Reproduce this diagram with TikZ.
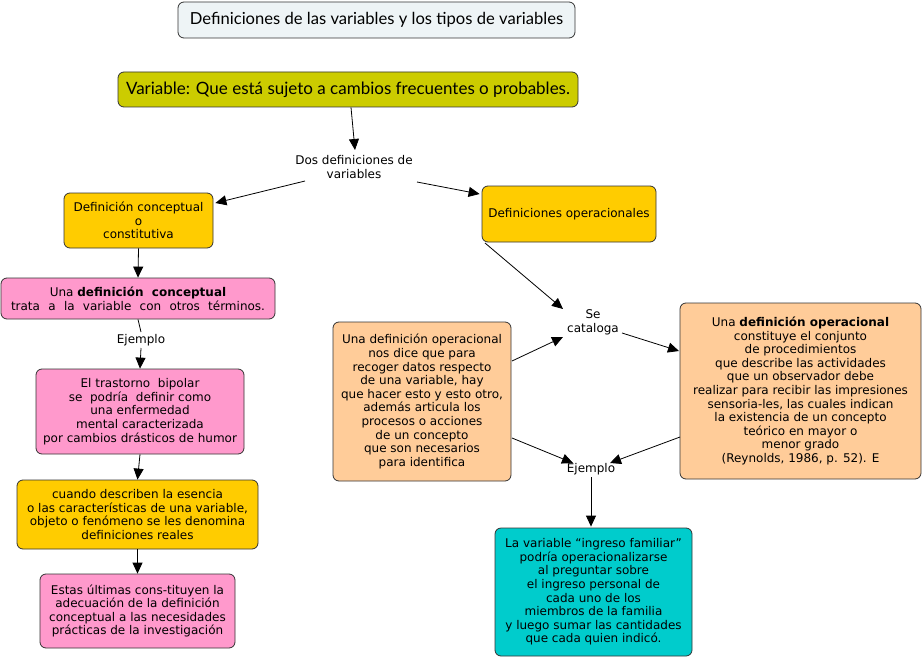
\documentclass[tikz,border=0pt]{standalone}
\usepackage{fontspec}
\setmainfont{DejaVu Sans}
\newfontfamily\titlefont{Lato}
\usetikzlibrary{arrows.meta,calc}
\definecolor{titlefill}{HTML}{EEF4F6}
\definecolor{olive}{HTML}{CCCC00}
\definecolor{gold}{HTML}{FFCC00}
\definecolor{pink}{HTML}{FF99CC}
\definecolor{peach}{HTML}{FFCC99}
\definecolor{cyanbox}{HTML}{00CCCC}
\definecolor{edge}{HTML}{333333}
\tikzset{
  box/.style={draw=edge, line width=0.8pt, rounded corners=6pt, align=center, inner sep=0pt,
    font=\fontsize{12}{13.6}\selectfont},
  lbl/.style={align=center, inner sep=1pt, font=\fontsize{12}{14.5}\selectfont},
  arr/.style={line width=0.8pt, -{Triangle[length=11pt,width=10pt]}},
  ln/.style={line width=0.8pt}
}
\begin{document}
\begin{tikzpicture}[x=1pt,y=-1pt]
\useasboundingbox (0,0) rectangle (923,658);
\node[box, fill=titlefill, minimum width=397pt, minimum height=36pt, font=\titlefont\fontsize{16.6}{20}\selectfont] (title) at (376.5,20) {Definiciones de las variables y los tipos de variables};
\node[box, fill=olive, minimum width=460pt, minimum height=35pt, font=\titlefont\fontsize{17}{22}\selectfont] (var) at (348,89.5) {Variable: Que está sujeto a cambios frecuentes o probables.};
\node[lbl] (dos) at (354,167) {Dos definiciones de\\variables};
\node[box, fill=gold, minimum width=149pt, minimum height=55pt] (defc) at (138.5,220.5) {Definición conceptual\\o\\constitutiva};
\node[box, fill=pink, minimum width=274pt, minimum height=41pt] (unac) at (138,298.5) {Una \textbf{definición\ \ conceptual}\\\makebox[254pt][s]{trata a la variable con otros términos.}};
\node[lbl] (ej1) at (141,340) {Ejemplo};
\node[box, fill=pink, minimum width=208pt, minimum height=85pt] (tras) at (140,411.5) {El trastorno\ \ bipolar\\se\ \ podría\ \ definir como\\una enfermedad\\mental caracterizada\\por cambios drásticos de humor};
\node[box, fill=gold, minimum width=241pt, minimum height=69pt] (cuando) at (137.5,514.5) {cuando describen la esencia\\o las características de una variable,\\objeto o fenómeno se les denomina\\definiciones reales};
\node[box, fill=pink, minimum width=195pt, minimum height=74pt] (estas) at (137.5,611) {Estas últimas cons-tituyen la\\adecuación de la definición\\conceptual a las necesidades\\prácticas de la investigación};
\node[box, fill=gold, minimum width=174pt, minimum height=56pt] (defop) at (569,214) {Definiciones operacionales};
\node[lbl] (secat) at (593,322.5) {Se\\cataloga};
\node[box, fill=peach, minimum width=178pt, minimum height=159pt] (opL) at (422,401.5) {Una definición operacional\\nos dice que para\\recoger datos respecto\\de una variable, hay\\que hacer esto y esto otro,\\además articula los\\procesos o acciones\\de un concepto\\que son necesarios\\para identifica};
\node[box, fill=peach, minimum width=241pt, minimum height=176pt] (opR) at (800.5,391) {Una \textbf{definición operacional}\\constituye el conjunto\\de procedimientos\\que describe las actividades\\que un observador debe\\realizar para recibir las impresiones\\sensoria-les, las cuales indican\\la existencia de un concepto\\teórico en mayor o\\menor grado\\(Reynolds, 1986, p. 52). E};
\node[lbl] (ej2) at (591,469) {Ejemplo};
\node[box, fill=cyanbox, minimum width=197pt, minimum height=128pt] (cyan) at (593.5,592) {La variable “ingreso familiar”\\podría operacionalizarse\\al preguntar sobre\\el ingreso personal de\\cada uno de los\\miembros de la familia\\y luego sumar las cantidades\\que cada quien indicó.};

\draw[arr] ($(var.south)+(3,0)$) -- ($(dos)+(1,-17)$);
\draw[arr] ($(dos)+(-49,14)$) -- ($(defc.east)+(2,-17.5)$);
\draw[arr] ($(dos)+(63,15)$) -- ($(defop.west)+(-2,-20)$);
\draw[arr] (defc.south) -- (unac.north);
\draw[ln] (unac.south) -- ($(ej1)+(0,-8)$);
\draw[arr] ($(ej1)+(0,8)$) -- (tras.north);
\draw[arr] (tras.south) -- (cuando.north);
\draw[arr] (cuando.south) -- (estas.north);
\draw[arr] ($(defop)+(-84,29)$) -- ($(secat)+(-30,-13.5)$);
\draw[arr] ($(opL)+(90,-40.5)$) -- ($(secat)+(-30,14.5)$);
\draw[arr] ($(secat)+(29,10.5)$) -- ($(opR)+(-121.5,-40)$);
\draw[arr] ($(opL)+(90,36.5)$) -- ($(ej2)+(-18,-6)$);
\draw[arr] ($(opR)+(-120.5,46)$) -- ($(ej2)+(19,-6)$);
\draw[arr] ($(ej2)+(0,8)$) -- ($(cyan.north)+(-2.5,-1)$);
\end{tikzpicture}
\end{document}
